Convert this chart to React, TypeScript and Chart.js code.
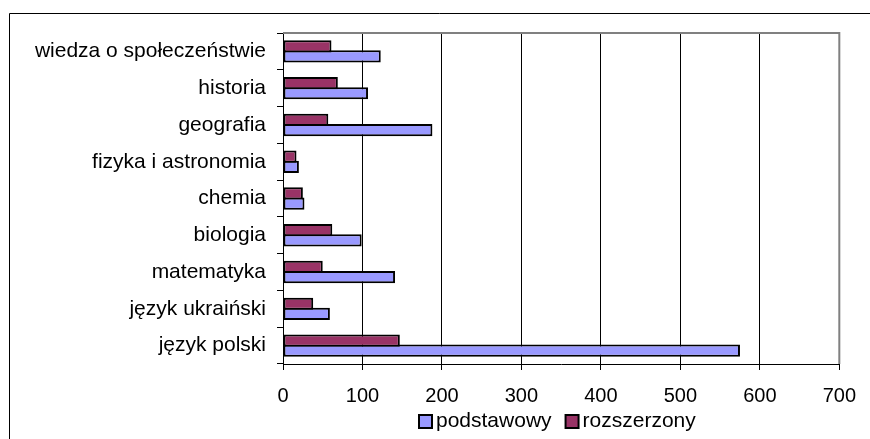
import React, { useEffect, useRef } from "react";
import { Chart, registerables } from "chart.js";

Chart.register(...registerables);

const categories = [
  "wiedza o społeczeństwie",
  "historia",
  "geografia",
  "fizyka i astronomia",
  "chemia",
  "biologia",
  "matematyka",
  "język ukraiński",
  "język polski",
];
const podstawowy = [123, 107, 188, 20, 27, 99, 141, 59, 575];
const rozszerzony = [61, 69, 57, 17, 25, 62, 50, 38, 147];
const seriesNames = ["podstawowy", "rozszerzony"];
const seriesColors = ["#9999FF", "#993366"];
const xMin = 0;
const xMax = 700;
const xStep = 100;

const FONT = "'Liberation Sans', Arial, sans-serif";

const framePlugin = {
  id: "frame",
  beforeDraw(chart: any) {
    const ctx = chart.ctx;
    ctx.save();
    ctx.fillStyle = "#ffffff";
    ctx.fillRect(0, 0, chart.width, chart.height);
    ctx.strokeStyle = "#000000";
    ctx.lineWidth = 1;
    ctx.beginPath();
    ctx.moveTo(9.5, chart.height);
    ctx.lineTo(9.5, 13.5);
    ctx.lineTo(chart.width, 13.5);
    ctx.stroke();
    ctx.restore();
  },
  afterDraw(chart: any) {
    const ctx = chart.ctx;
    const a = chart.chartArea;
    ctx.save();
    ctx.strokeStyle = "#808080";
    ctx.lineWidth = 2;
    ctx.beginPath();
    ctx.moveTo(a.left, a.top);
    ctx.lineTo(a.right, a.top);
    ctx.lineTo(a.right, a.bottom);
    ctx.stroke();

    // legend: podstawowy first, then rozszerzony
    ctx.font = `21px ${FONT}`;
    ctx.textBaseline = "middle";
    let x = 418;
    const boxY = 414;
    const box = 13;
    for (let i = 0; i < seriesNames.length; i++) {
      ctx.fillStyle = seriesColors[i];
      ctx.fillRect(x + 1, boxY + 1, box, box);
      ctx.strokeStyle = "#000";
      ctx.lineWidth = 2;
      ctx.strokeRect(x + 1, boxY + 1, box, box);
      ctx.fillStyle = "#000";
      const tx = x + box + 5;
      ctx.fillText(seriesNames[i], tx, 421);
      x = tx + ctx.measureText(seriesNames[i]).width + 13;
    }
    ctx.restore();
  },
};

export default function App() {
  const ref = useRef<HTMLCanvasElement>(null);
  useEffect(() => {
    if (!ref.current) return;
    const barCommon = {
      borderColor: "#000",
      borderWidth: 2,
      borderSkipped: false,
      categoryPercentage: 0.554,
      barPercentage: 1.2,
    };
    const chart = new Chart(ref.current, {
      type: "bar",
      data: {
        labels: categories,
        datasets: [
          {
            label: seriesNames[1],
            data: rozszerzony,
            backgroundColor: seriesColors[1],
            ...barCommon,
          },
          {
            label: seriesNames[0],
            data: podstawowy,
            backgroundColor: seriesColors[0],
            ...barCommon,
          },
        ],
      },
      options: {
        indexAxis: "y",
        responsive: false,
        animation: false,
        devicePixelRatio: 1,
        layout: { padding: { left: 0, top: 33, right: 28, bottom: 0 } },
        plugins: {
          legend: { display: false },
          tooltip: { enabled: false },
          title: { display: false },
        },
        scales: {
          x: {
            min: xMin,
            max: xMax,
            ticks: {
              stepSize: xStep,
              color: "#000",
              font: { family: FONT, size: 20 },
              padding: 14,
              maxRotation: 0,
            },
            grid: {
              color: "#000",
              lineWidth: 1,
              drawTicks: true,
              tickLength: 6,
              tickColor: "#000",
            },
            border: { color: "#000", width: 1 },
            afterFit(scale: any) {
              scale.height = 75;
            },
          },
          y: {
            ticks: {
              color: "#000",
              font: { family: FONT, size: 21 },
              padding: 11,
            },
            grid: {
              drawOnChartArea: false,
              drawTicks: true,
              tickLength: 6,
              tickColor: "#000",
              offset: true,
            },
            border: { color: "#000", width: 1 },
            afterFit(scale: any) {
              scale.width = 283;
            },
          },
        },
      },
      plugins: [framePlugin],
    } as any);
    return () => chart.destroy();
  }, []);
  return (
    <div style={{ position: "fixed", left: 0, top: 0, width: 870, height: 439, background: "#fff" }}>
      <canvas ref={ref} width={870} height={439} style={{ width: 870, height: 439, display: "block" }} />
    </div>
  );
}
